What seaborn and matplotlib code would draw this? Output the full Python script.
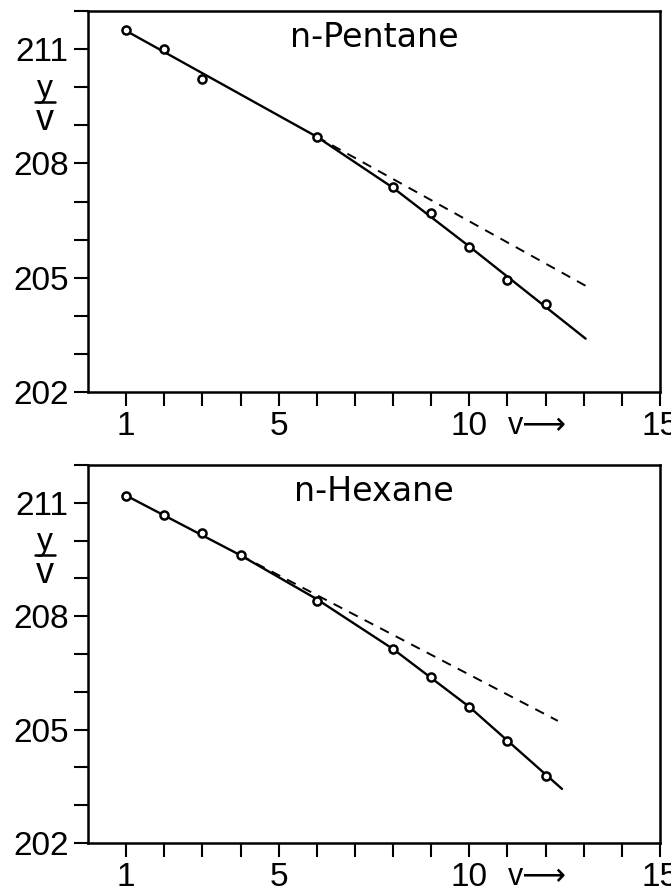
import matplotlib
matplotlib.use("Agg")
import matplotlib.pyplot as plt
import seaborn as sns
import pandas as pd

# Birge-Sponer style plots: measured points, fitted curve and linear extrapolation
pentane_v = [1, 2, 3, 6, 8, 9, 10, 11, 12]
pentane_y = [211.50, 210.99, 210.22, 208.70, 207.38, 206.70, 205.80, 204.93, 204.30]
pentane_fit_v = [1, 6, 8, 10, 13.05]
pentane_fit_y = [211.48, 208.70, 207.36, 205.82, 203.40]
pentane_lin_v = [6, 13.1]
pentane_lin_y = [208.70, 204.76]

hexane_v = [1, 2, 3, 4, 6, 8, 9, 10, 11, 12]
hexane_y = [211.19, 210.67, 210.20, 209.61, 208.41, 207.13, 206.40, 205.59, 204.69, 203.77]
hexane_fit_v = [1, 4, 6, 8, 10, 12.43]
hexane_fit_y = [211.19, 209.61, 208.45, 207.13, 205.60, 203.43]
hexane_lin_v = [4, 12.32]
hexane_lin_y = [209.61, 205.23]

x_ticks = list(range(1, 16))
x_labels = {1: "1", 5: "5", 10: "10", 15: "15"}
y_ticks = list(range(202, 213))
y_labels = {202: "202", 205: "205", 208: "208", 211: "211"}

sns.set_style("ticks")
plt.rcParams['font.family'] = ['Liberation Sans', 'DejaVu Sans']
plt.rcParams['text.color'] = 'black'

fig = plt.figure(figsize=(6.71, 8.96), dpi=100)
ax_top = fig.add_axes([0.1311, 0.5625, 0.8525, 0.4252])
ax_bot = fig.add_axes([0.1311, 0.0592, 0.8525, 0.4219])


def panel(ax, name, v, y, fit_v, fit_y, lin_v, lin_y):
    fit = pd.DataFrame({"v": fit_v, "y": fit_y})
    lin = pd.DataFrame({"v": lin_v, "y": lin_y})
    pts = pd.DataFrame({"v": v, "y": y})
    sns.lineplot(data=fit, x="v", y="y", ax=ax, color="black", lw=1.7,
                 sort=False, estimator=None)
    sns.lineplot(data=lin, x="v", y="y", ax=ax, color="black", lw=1.4,
                 sort=False, estimator=None, linestyle=(0, (5, 4)))
    sns.scatterplot(data=pts, x="v", y="y", ax=ax, marker="o", s=34,
                    color="white", edgecolor="black", linewidth=1.8, zorder=3)

    ax.set_xlim(0, 15)
    ax.set_ylim(202, 212)
    ax.set_xticks(x_ticks)
    ax.set_xticklabels([x_labels.get(t, "") for t in x_ticks])
    ax.set_yticks(y_ticks)
    ax.set_yticklabels([y_labels.get(t, "") for t in y_ticks])
    ax.tick_params(direction="out", length=10, width=1.5, labelsize=24,
                   pad=4, colors="black")
    for s in ax.spines.values():
        s.set_visible(True)
        s.set_linewidth(1.8)
        s.set_color("black")
    ax.set_xlabel("")
    ax.set_ylabel("")

    ax.text(0.5, 0.93, name, transform=ax.transAxes, ha="center",
            va="center", fontsize=24, family="DejaVu Sans", color="black")

    # axis arrow label next to the "10" tick
    ax.annotate("v\u27f6", xy=(11, 0), xycoords=("data", "axes fraction"),
                xytext=(0, -30.5), textcoords="offset points", ha="left",
                va="baseline", fontsize=22, color="black",
                family=["Liberation Sans", "DejaVu Sans"])

    # y-axis label written as a stacked fraction
    ax.text(-0.075, 0.795, "y", transform=ax.transAxes, ha="center",
            va="center", fontsize=23, family="Liberation Sans")
    ax.plot([-0.093, -0.057], [0.762, 0.762], transform=ax.transAxes,
            clip_on=False, color="black", lw=1.8)
    ax.text(-0.075, 0.713, "v", transform=ax.transAxes, ha="center",
            va="center", fontsize=26, family="Liberation Sans")


panel(ax_top, "n-Pentane", pentane_v, pentane_y, pentane_fit_v,
      pentane_fit_y, pentane_lin_v, pentane_lin_y)
panel(ax_bot, "n-Hexane", hexane_v, hexane_y, hexane_fit_v,
      hexane_fit_y, hexane_lin_v, hexane_lin_y)

fig.savefig("out.png", dpi=100, facecolor="white")
